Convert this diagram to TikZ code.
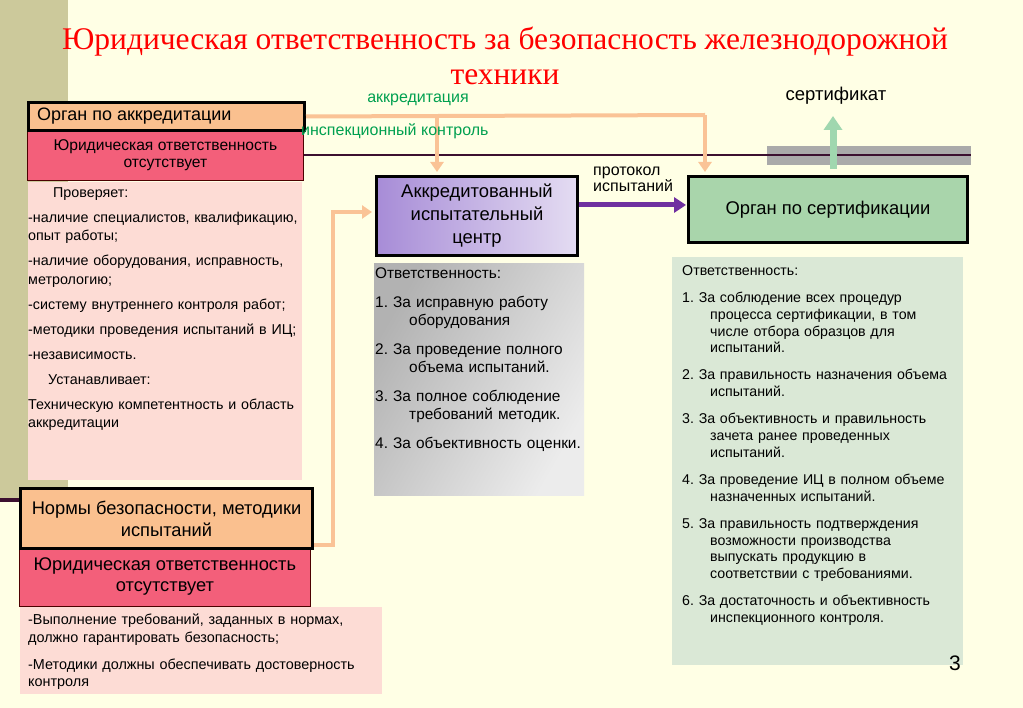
\documentclass[tikz,border=0pt]{standalone}
\usepackage{fontspec}
\setmainfont{Liberation Sans}
\newfontfamily\titlefont{Liberation Serif}
\usetikzlibrary{arrows.meta}
\definecolor{bgc}{RGB}{255,255,229}
\definecolor{olivec}{RGB}{204,201,155}
\definecolor{orboxc}{RGB}{250,192,143}
\definecolor{redboxc}{RGB}{243,95,122}
\definecolor{pinkc}{RGB}{253,220,213}
\definecolor{purpleLc}{RGB}{167,140,215}
\definecolor{purpleRc}{RGB}{228,220,242}
\definecolor{grayDc}{RGB}{178,178,178}
\definecolor{grayLc}{RGB}{236,236,236}
\definecolor{greenboxc}{RGB}{169,213,171}
\definecolor{lgreenc}{RGB}{218,232,214}
\definecolor{orlinec}{RGB}{250,195,150}
\definecolor{parrowc}{RGB}{112,48,160}
\definecolor{garrowc}{RGB}{160,215,175}
\definecolor{bandc}{RGB}{170,170,170}
\definecolor{darklinec}{RGB}{60,16,48}
\definecolor{greentxtc}{RGB}{0,160,80}
\definecolor{titlec}{RGB}{255,0,0}
\begin{document}
\begin{tikzpicture}[x=1pt,y=-1pt,
  thickbox/.style={draw=black, line width=3pt, anchor=north west, inner sep=0pt, align=center},
  redbox/.style={draw=black!70!red, line width=0.8pt, fill=redboxc, anchor=north west, inner sep=0pt, align=center,
     font=\fontsize{15.6}{17}\selectfont},
  plainbox/.style={anchor=north west, inner sep=0pt},
  txtblock/.style={anchor=base west, inner sep=0pt, text width=#1, align=left},
  orline/.style={draw=orlinec, line width=4pt, -{Triangle[width=13pt,length=10pt]}, shorten >=3pt},
  orplain/.style={draw=orlinec, line width=4pt},
  lbl/.style={inner sep=0pt, font=\fontsize{16}{18}\selectfont}
]
\useasboundingbox (0,0) rectangle (1023,708);
\fill[bgc] (0,0) rectangle (1023,708);
\fill[olivec] (0,0) rectangle (68,498);

% title
\node[inner sep=0pt, text=titlec, font=\titlefont\fontsize{31.5}{35}\selectfont, align=center] (title) at (505,56)
  {Юридическая ответственность за безопасность железнодорожной\\техники};

% gray band
\fill[bandc] (767,146) rectangle (971,165);

% left column
\node[redbox, minimum width=276pt, minimum height=51pt] (rz1) at (27,129) {Юридическая ответственность\\отсутствует};
\node[thickbox, fill=orboxc, minimum width=276pt, minimum height=28pt] (acc) at (27,101) {};
\node[anchor=west, inner sep=0pt, font=\fontsize{18}{20}\selectfont] (acctxt) at (37,116) {Орган по аккредитации};
\node[plainbox, fill=pinkc, minimum width=274pt, minimum height=298pt] (pk1) at (28,182) {};
\node[txtblock=300pt, font=\fontsize{14.3}{18.5}\selectfont] (pk1txt) at (28,197.5)
 {\hspace*{25pt}Проверяет:\\[6.5pt]
  -наличие специалистов, квалификацию,\\
  опыт работы;\\[6.5pt]
  -наличие оборудования, исправность,\\
  метрологию;\\[6.5pt]
  -систему внутреннего контроля работ;\\[6.5pt]
  -методики проведения испытаний в ИЦ;\\[6.5pt]
  -независимость.\\[6.5pt]
  \hspace*{20pt}Устанавливает:\\[6.5pt]
  Техническую компетентность и область\\
  аккредитации};

\node[redbox, minimum width=291pt, minimum height=59pt, font=\fontsize{18.3}{21}\selectfont] (rz2) at (19,547) {Юридическая ответственность\\отсутствует};
\node[thickbox, fill=orboxc, minimum width=292pt, minimum height=60pt, font=\fontsize{18.3}{22}\selectfont] (norm) at (19,487) {Нормы безопасности, методики\\испытаний};
\node[plainbox, fill=pinkc, minimum width=362pt, minimum height=87pt] (pk2) at (20,607) {};
\node[txtblock=360pt, font=\fontsize{14.4}{17.5}\selectfont] (pk2txt) at (28,624.5)
 {-Выполнение требований, заданных в нормах,\\
  должно гарантировать безопасность;\\[9.5pt]
  -Методики должны обеспечивать достоверность\\
  контроля};

% middle column
\node[thickbox, left color=purpleLc, right color=purpleRc, minimum width=201pt, minimum height=79pt, font=\fontsize{18.4}{23}\selectfont] (ic) at (375,175) {Аккредитованный\\испытательный\\центр};
\node[plainbox, left color=grayDc, right color=grayLc, shading angle=60, minimum width=210pt, minimum height=232pt] (gr) at (374,263) {};
\node[txtblock=215pt, font=\fontsize{15.4}{18.5}\selectfont] (grtxt) at (375,279)
 {Ответственность:\\[10pt]
  1.\ За исправную работу\\
  \hspace*{34pt}оборудования\\[10pt]
  2.\ За проведение полного\\
  \hspace*{34pt}объема испытаний.\\[10pt]
  3.\ За полное соблюдение\\
  \hspace*{34pt}требований методик.\\[10pt]
  4.\ За объективность оценки.};

% right column
\node[thickbox, fill=greenboxc, minimum width=279pt, minimum height=66pt, font=\fontsize{18.4}{20}\selectfont] (cert) at (687,175) {Орган по сертификации};
\node[plainbox, fill=lgreenc, minimum width=291pt, minimum height=408pt] (lg) at (672,257) {};
\node[txtblock=290pt, font=\fontsize{14.2}{16.7}\selectfont] (lgtxt) at (682,275.5)
 {Ответственность:\\[10.5pt]
  1.\ За соблюдение всех процедур\\
  \hspace*{28pt}процесса сертификации, в том\\
  \hspace*{28pt}числе отбора образцов для\\
  \hspace*{28pt}испытаний.\\[10.5pt]
  2.\ За правильность назначения объема\\
  \hspace*{28pt}испытаний.\\[10.5pt]
  3.\ За объективность и правильность\\
  \hspace*{28pt}зачета ранее проведенных\\
  \hspace*{28pt}испытаний.\\[10.5pt]
  4.\ За проведение ИЦ в полном объеме\\
  \hspace*{28pt}назначенных испытаний.\\[10.5pt]
  5.\ За правильность подтверждения\\
  \hspace*{28pt}возможности производства\\
  \hspace*{28pt}выпускать продукцию в\\
  \hspace*{28pt}соответствии с требованиями.\\[10.5pt]
  6.\ За достаточность и объективность\\
  \hspace*{28pt}инспекционного контроля.};
\node[inner sep=0pt, font=\fontsize{21}{24}\selectfont] (pnum) at (955,663) {3};

% dark lines
\coordinate (rgt) at (971,155);
\draw[darklinec, line width=2pt] (rz1.east |- rgt) -- (rgt);
\coordinate (lft) at (0,500);
\draw[darklinec, line width=4pt] (lft) -- (norm.west |- lft);

% certificate arrow
\coordinate (cstart) at (833,169);
\coordinate (cend) at (833,116);
\draw[garrowc, line width=7pt, -{Triangle[width=18pt,length=14pt]}] (cstart) -- (cend);
\node[inner sep=0pt, font=\fontsize{18.5}{20}\selectfont] (certlbl) at (836,96) {сертификат};

% orange connectors
\coordinate (j1) at (437,115);
\coordinate (j2) at (705,115);
\draw[orplain] (acc.east) -- (j2);
\draw[orline] (j2) -- (j2 |- cert.north);
\draw[orline] (j1) -- (j1 |- ic.north);
\coordinate (k1) at (333,545);
\coordinate (k2) at (333,212);
\draw[orline] (norm.east |- k1) -- (k1) -- (k2) -- (ic.west |- k2);
\node[lbl, text=greentxtc] (lblacc) at (418,100) {аккредитация};
\node[lbl, text=greentxtc, anchor=west] (lblinsp) at (301,131) {инспекционный контроль};

% purple arrow
\coordinate (pa) at (600,205);
\draw[parrowc, line width=5pt, -{Triangle[width=15pt,length=12pt]}, shorten >=1pt] (ic.east |- pa) -- (cert.west |- pa);
\node[lbl, anchor=west, align=left, font=\fontsize{16}{15}\selectfont] (lblprot) at (593,179) {протокол\\испытаний};
\end{tikzpicture}
\end{document}
